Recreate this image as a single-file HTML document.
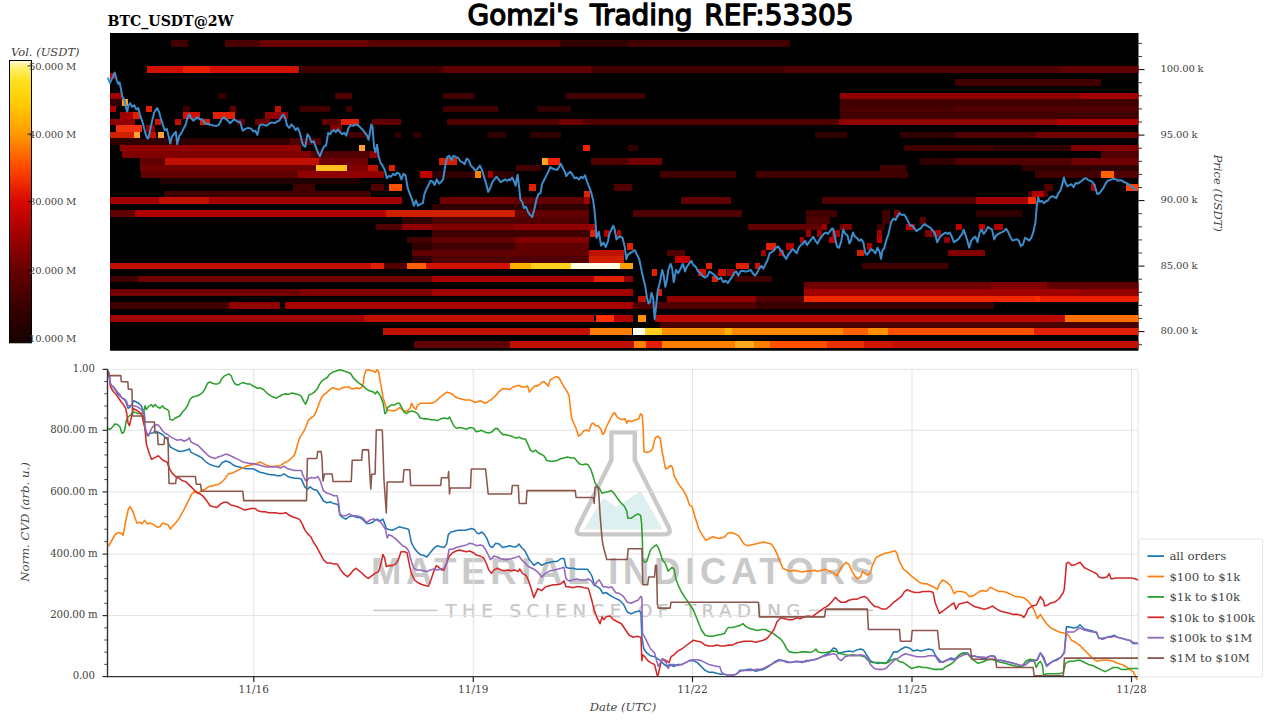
<!DOCTYPE html><html><head><meta charset="utf-8"><title>BTC_USDT@2W</title><style>
html,body{margin:0;padding:0;background:#fff;}body{width:1280px;height:720px;overflow:hidden;}
svg{display:block;}
.s{font-family:"DejaVu Serif","Liberation Serif",serif;fill:#444;}
</style></head><body>
<svg width="1280" height="720" viewBox="0 0 1280 720">
<text x="467.6" y="25" font-family="DejaVu Sans,Liberation Sans,sans-serif" font-size="29" fill="#000" stroke="#000" stroke-width="1.4" stroke-linejoin="round" word-spacing="3" textLength="386" lengthAdjust="spacingAndGlyphs">Gomzi's Trading REF:53305</text>
<text x="107.5" y="26" font-family="DejaVu Serif,Liberation Serif,serif" font-weight="bold" font-size="14.5" fill="#000" textLength="126" lengthAdjust="spacingAndGlyphs">BTC_USDT@2W</text>
<defs><linearGradient id="cb" x1="0" y1="0" x2="0" y2="1">
<stop offset="0" stop-color="#fffbe0"/>
<stop offset="0.025" stop-color="#fff070"/>
<stop offset="0.07" stop-color="#ffe020"/>
<stop offset="0.15" stop-color="#ffcc00"/>
<stop offset="0.26" stop-color="#ff9a00"/>
<stop offset="0.38" stop-color="#ff4800"/>
<stop offset="0.5" stop-color="#d80800"/>
<stop offset="0.62" stop-color="#a00000"/>
<stop offset="0.74" stop-color="#680000"/>
<stop offset="0.87" stop-color="#3a0000"/>
<stop offset="1" stop-color="#160000"/>
</linearGradient></defs>
<rect x="9.5" y="60.5" width="22" height="282.3" fill="url(#cb)" stroke="#000" stroke-width="1"/>
<text class="s" x="11" y="55.5" font-size="11.5" font-style="italic">Vol. (USDT)</text>
<line x1="27.5" y1="66" x2="31.5" y2="66" stroke="#000" stroke-width="0.8"/>
<text class="s" x="29" y="69.6" font-size="10" letter-spacing="-0.15">50.000 M</text>
<line x1="27.5" y1="134" x2="31.5" y2="134" stroke="#000" stroke-width="0.8"/>
<text class="s" x="29" y="137.6" font-size="10" letter-spacing="-0.15">40.000 M</text>
<line x1="27.5" y1="201.5" x2="31.5" y2="201.5" stroke="#000" stroke-width="0.8"/>
<text class="s" x="29" y="205.1" font-size="10" letter-spacing="-0.15">30.000 M</text>
<line x1="27.5" y1="270" x2="31.5" y2="270" stroke="#000" stroke-width="0.8"/>
<text class="s" x="29" y="273.6" font-size="10" letter-spacing="-0.15">20.000 M</text>
<line x1="27.5" y1="338" x2="31.5" y2="338" stroke="#000" stroke-width="0.8"/>
<text class="s" x="29" y="341.6" font-size="10" letter-spacing="-0.15">10.000 M</text>
<clipPath id="hc"><rect x="110" y="33" width="1028.5" height="317.75"/></clipPath>
<rect x="110" y="33" width="1028.5" height="317.75" fill="#000"/>
<g clip-path="url(#hc)" shape-rendering="crispEdges">
<rect x="171" y="40.13" width="17" height="6.55" fill="#400000"/>
<rect x="224.8" y="40.13" width="35.2" height="6.55" fill="#4a0000"/>
<rect x="260" y="40.13" width="108" height="6.55" fill="#6a0000"/>
<rect x="368" y="40.13" width="192" height="6.55" fill="#580000"/>
<rect x="560" y="40.13" width="68" height="6.55" fill="#300000"/>
<rect x="628" y="40.13" width="162" height="6.55" fill="#400000"/>
<rect x="146.6" y="66.33" width="36.4" height="6.55" fill="#d01000"/>
<rect x="183" y="66.33" width="27" height="6.55" fill="#e82000"/>
<rect x="210" y="66.33" width="89" height="6.55" fill="#d01000"/>
<rect x="301" y="66.33" width="67" height="6.55" fill="#400000"/>
<rect x="368" y="66.33" width="75" height="6.55" fill="#400000"/>
<rect x="443" y="66.33" width="148" height="6.55" fill="#600000"/>
<rect x="591" y="66.33" width="37" height="6.55" fill="#400000"/>
<rect x="628" y="66.33" width="156" height="6.55" fill="#400000"/>
<rect x="784" y="66.33" width="104" height="6.55" fill="#500000"/>
<rect x="888" y="66.33" width="172" height="6.55" fill="#500000"/>
<rect x="1060" y="66.33" width="78.5" height="6.55" fill="#600000"/>
<rect x="110" y="72.88" width="6" height="6.55" fill="#c00000"/>
<rect x="955" y="79.43" width="146" height="6.55" fill="#400000"/>
<rect x="110" y="92.53" width="12" height="6.55" fill="#a00000"/>
<rect x="218" y="92.53" width="8" height="6.55" fill="#300000"/>
<rect x="335" y="92.53" width="17" height="6.55" fill="#500000"/>
<rect x="443" y="92.53" width="31" height="6.55" fill="#400000"/>
<rect x="566" y="92.53" width="79" height="6.55" fill="#400000"/>
<rect x="840" y="92.53" width="240" height="6.55" fill="#900000"/>
<rect x="1080" y="92.53" width="58.5" height="6.55" fill="#a00000"/>
<rect x="110" y="99.08" width="12" height="6.55" fill="#300000"/>
<rect x="122" y="99.08" width="6" height="6.55" fill="#ffa020"/>
<rect x="840" y="99.08" width="298.5" height="6.55" fill="#400000"/>
<rect x="110" y="105.63" width="6" height="6.55" fill="#b00000"/>
<rect x="146" y="105.63" width="6" height="6.55" fill="#e02000"/>
<rect x="183" y="105.63" width="7" height="6.55" fill="#400000"/>
<rect x="230" y="105.63" width="6" height="6.55" fill="#600000"/>
<rect x="275" y="105.63" width="6" height="6.55" fill="#c01000"/>
<rect x="300" y="105.63" width="30" height="6.55" fill="#400000"/>
<rect x="346" y="105.63" width="6" height="6.55" fill="#400000"/>
<rect x="443" y="105.63" width="55" height="6.55" fill="#400000"/>
<rect x="537" y="105.63" width="34" height="6.55" fill="#300000"/>
<rect x="840" y="105.63" width="115" height="6.55" fill="#480000"/>
<rect x="955" y="105.63" width="183.5" height="6.55" fill="#500000"/>
<rect x="120" y="112.18" width="13" height="6.55" fill="#a00000"/>
<rect x="133" y="112.18" width="7" height="6.55" fill="#e02000"/>
<rect x="183" y="112.18" width="17" height="6.55" fill="#d01000"/>
<rect x="213" y="112.18" width="22" height="6.55" fill="#e02000"/>
<rect x="265" y="112.18" width="23" height="6.55" fill="#900000"/>
<rect x="840" y="112.18" width="298.5" height="6.55" fill="#400000"/>
<rect x="110" y="118.73" width="25" height="6.55" fill="#900000"/>
<rect x="155" y="118.73" width="6" height="6.55" fill="#d01000"/>
<rect x="175" y="118.73" width="6" height="6.55" fill="#c01000"/>
<rect x="200" y="118.73" width="10" height="6.55" fill="#d02000"/>
<rect x="237" y="118.73" width="8" height="6.55" fill="#600000"/>
<rect x="255" y="118.73" width="15" height="6.55" fill="#700000"/>
<rect x="322" y="118.73" width="8" height="6.55" fill="#600000"/>
<rect x="330" y="118.73" width="11" height="6.55" fill="#600000"/>
<rect x="341" y="118.73" width="18" height="6.55" fill="#e02000"/>
<rect x="372" y="118.73" width="29" height="6.55" fill="#600000"/>
<rect x="447" y="118.73" width="112" height="6.55" fill="#500000"/>
<rect x="559" y="118.73" width="24" height="6.55" fill="#700000"/>
<rect x="583" y="118.73" width="256" height="6.55" fill="#500000"/>
<rect x="839" y="118.73" width="218" height="6.55" fill="#900000"/>
<rect x="1057" y="118.73" width="81.5" height="6.55" fill="#b00000"/>
<rect x="116" y="125.28" width="26" height="6.55" fill="#f03010"/>
<rect x="146" y="125.28" width="9" height="6.55" fill="#900000"/>
<rect x="330" y="125.28" width="12" height="6.55" fill="#800000"/>
<rect x="110" y="131.83" width="24" height="6.55" fill="#d02000"/>
<rect x="134" y="131.83" width="6" height="6.55" fill="#ffa030"/>
<rect x="149" y="131.83" width="7" height="6.55" fill="#c01000"/>
<rect x="158" y="131.83" width="6" height="6.55" fill="#ffa030"/>
<rect x="348" y="131.83" width="20" height="6.55" fill="#400000"/>
<rect x="395" y="131.83" width="6" height="6.55" fill="#300000"/>
<rect x="413" y="131.83" width="8" height="6.55" fill="#300000"/>
<rect x="488" y="131.83" width="18" height="6.55" fill="#300000"/>
<rect x="530" y="131.83" width="31" height="6.55" fill="#300000"/>
<rect x="815" y="131.83" width="32" height="6.55" fill="#300000"/>
<rect x="900" y="131.83" width="55" height="6.55" fill="#300000"/>
<rect x="955" y="131.83" width="81" height="6.55" fill="#500000"/>
<rect x="1036" y="131.83" width="102.5" height="6.55" fill="#700000"/>
<rect x="110" y="138.38" width="180" height="6.55" fill="#300000"/>
<rect x="290" y="138.38" width="31" height="6.55" fill="#500000"/>
<rect x="120" y="144.93" width="181" height="6.55" fill="#900000"/>
<rect x="359" y="144.93" width="6" height="6.55" fill="#ffa030"/>
<rect x="583" y="144.93" width="7" height="6.55" fill="#f02000"/>
<rect x="628" y="144.93" width="10" height="6.55" fill="#300000"/>
<rect x="904" y="144.93" width="90" height="6.55" fill="#400000"/>
<rect x="994" y="144.93" width="77" height="6.55" fill="#300000"/>
<rect x="1071" y="144.93" width="67.5" height="6.55" fill="#800000"/>
<rect x="122" y="151.48" width="189" height="6.55" fill="#800000"/>
<rect x="311" y="151.48" width="59" height="6.55" fill="#500000"/>
<rect x="370" y="151.48" width="9" height="6.55" fill="#900000"/>
<rect x="1101" y="151.48" width="37.5" height="6.55" fill="#500000"/>
<rect x="140" y="158.03" width="25" height="6.55" fill="#600000"/>
<rect x="165" y="158.03" width="154" height="6.55" fill="#c01000"/>
<rect x="319" y="158.03" width="49" height="6.55" fill="#700000"/>
<rect x="439" y="158.03" width="18" height="6.55" fill="#d02000"/>
<rect x="542" y="158.03" width="6" height="6.55" fill="#ffa020"/>
<rect x="548" y="158.03" width="12" height="6.55" fill="#f02000"/>
<rect x="591" y="158.03" width="37" height="6.55" fill="#500000"/>
<rect x="628" y="158.03" width="34" height="6.55" fill="#700000"/>
<rect x="920" y="158.03" width="35" height="6.55" fill="#300000"/>
<rect x="955" y="158.03" width="116" height="6.55" fill="#500000"/>
<rect x="1071" y="158.03" width="67.5" height="6.55" fill="#700000"/>
<rect x="140" y="164.58" width="176" height="6.55" fill="#700000"/>
<rect x="316" y="164.58" width="31" height="6.55" fill="#ffc020"/>
<rect x="347" y="164.58" width="21" height="6.55" fill="#800000"/>
<rect x="368" y="164.58" width="10" height="6.55" fill="#c01000"/>
<rect x="389" y="164.58" width="6" height="6.55" fill="#e02000"/>
<rect x="516" y="164.58" width="25" height="6.55" fill="#400000"/>
<rect x="880" y="164.58" width="26" height="6.55" fill="#400000"/>
<rect x="1022" y="164.58" width="116.5" height="6.55" fill="#300000"/>
<rect x="141" y="171.13" width="157" height="6.55" fill="#600000"/>
<rect x="298" y="171.13" width="86" height="6.55" fill="#900000"/>
<rect x="420" y="171.13" width="12" height="6.55" fill="#c00000"/>
<rect x="432" y="171.13" width="43" height="6.55" fill="#300000"/>
<rect x="475" y="171.13" width="6" height="6.55" fill="#ff8000"/>
<rect x="481" y="171.13" width="7" height="6.55" fill="#300000"/>
<rect x="488" y="171.13" width="5" height="6.55" fill="#a00000"/>
<rect x="493" y="171.13" width="22" height="6.55" fill="#300000"/>
<rect x="660" y="171.13" width="76" height="6.55" fill="#400000"/>
<rect x="756" y="171.13" width="152" height="6.55" fill="#400000"/>
<rect x="1035" y="171.13" width="66" height="6.55" fill="#400000"/>
<rect x="1101" y="171.13" width="13" height="6.55" fill="#ff6000"/>
<rect x="1114" y="171.13" width="24.5" height="6.55" fill="#500000"/>
<rect x="160" y="177.68" width="200" height="6.55" fill="#200000"/>
<rect x="293" y="184.23" width="22" height="6.55" fill="#400000"/>
<rect x="371" y="184.23" width="13" height="6.55" fill="#500000"/>
<rect x="389" y="184.23" width="13" height="6.55" fill="#ff5000"/>
<rect x="529" y="184.23" width="7" height="6.55" fill="#e02000"/>
<rect x="614" y="184.23" width="18" height="6.55" fill="#500000"/>
<rect x="1044" y="184.23" width="9" height="6.55" fill="#500000"/>
<rect x="1091" y="184.23" width="5" height="6.55" fill="#b00000"/>
<rect x="1126" y="184.23" width="12.5" height="6.55" fill="#ff4000"/>
<rect x="164" y="190.78" width="207" height="6.55" fill="#400000"/>
<rect x="584" y="190.78" width="6" height="6.55" fill="#e02000"/>
<rect x="1028" y="190.78" width="4" height="6.55" fill="#500000"/>
<rect x="1032" y="190.78" width="12" height="6.55" fill="#b00000"/>
<rect x="1044" y="190.78" width="4" height="6.55" fill="#500000"/>
<rect x="110" y="197.33" width="49" height="6.55" fill="#a00000"/>
<rect x="159" y="197.33" width="50" height="6.55" fill="#c01000"/>
<rect x="209" y="197.33" width="193" height="6.55" fill="#a00000"/>
<rect x="440" y="197.33" width="75" height="6.55" fill="#700000"/>
<rect x="515" y="197.33" width="69" height="6.55" fill="#600000"/>
<rect x="584" y="197.33" width="6" height="6.55" fill="#a00000"/>
<rect x="681" y="197.33" width="50" height="6.55" fill="#600000"/>
<rect x="822" y="197.33" width="154" height="6.55" fill="#500000"/>
<rect x="976" y="197.33" width="52" height="6.55" fill="#a00000"/>
<rect x="1028" y="197.33" width="8" height="6.55" fill="#ff3000"/>
<rect x="432" y="203.88" width="157" height="6.55" fill="#300000"/>
<rect x="110" y="210.43" width="25" height="6.55" fill="#600000"/>
<rect x="135" y="210.43" width="251" height="6.55" fill="#b00000"/>
<rect x="386" y="210.43" width="129" height="6.55" fill="#d02000"/>
<rect x="515" y="210.43" width="74" height="6.55" fill="#600000"/>
<rect x="633" y="210.43" width="109" height="6.55" fill="#500000"/>
<rect x="806" y="210.43" width="31" height="6.55" fill="#400000"/>
<rect x="882" y="210.43" width="8" height="6.55" fill="#400000"/>
<rect x="894" y="210.43" width="6" height="6.55" fill="#800000"/>
<rect x="976" y="210.43" width="46" height="6.55" fill="#300000"/>
<rect x="402" y="216.98" width="30" height="6.55" fill="#300000"/>
<rect x="432" y="216.98" width="157" height="6.55" fill="#500000"/>
<rect x="806" y="216.98" width="24" height="6.55" fill="#500000"/>
<rect x="882" y="216.98" width="8" height="6.55" fill="#400000"/>
<rect x="920" y="216.98" width="6" height="6.55" fill="#600000"/>
<rect x="376" y="223.53" width="26" height="6.55" fill="#500000"/>
<rect x="402" y="223.53" width="30" height="6.55" fill="#900000"/>
<rect x="432" y="223.53" width="83" height="6.55" fill="#800000"/>
<rect x="515" y="223.53" width="74" height="6.55" fill="#900000"/>
<rect x="589" y="223.53" width="7" height="6.55" fill="#a00000"/>
<rect x="748" y="223.53" width="74" height="6.55" fill="#600000"/>
<rect x="822" y="223.53" width="5" height="6.55" fill="#a00000"/>
<rect x="840" y="223.53" width="12" height="6.55" fill="#800000"/>
<rect x="877" y="223.53" width="8" height="6.55" fill="#400000"/>
<rect x="906" y="223.53" width="9" height="6.55" fill="#c00000"/>
<rect x="956" y="223.53" width="6" height="6.55" fill="#c00000"/>
<rect x="979" y="223.53" width="6" height="6.55" fill="#c00000"/>
<rect x="994" y="223.53" width="9" height="6.55" fill="#b00000"/>
<rect x="432" y="230.08" width="157" height="6.55" fill="#400000"/>
<rect x="590" y="230.08" width="7" height="6.55" fill="#e02000"/>
<rect x="604" y="230.08" width="5" height="6.55" fill="#b00000"/>
<rect x="617" y="230.08" width="4" height="6.55" fill="#c00000"/>
<rect x="806" y="230.08" width="5" height="6.55" fill="#a00000"/>
<rect x="817" y="230.08" width="5" height="6.55" fill="#a00000"/>
<rect x="832" y="230.08" width="8" height="6.55" fill="#a00000"/>
<rect x="877" y="230.08" width="5" height="6.55" fill="#a00000"/>
<rect x="925" y="230.08" width="7" height="6.55" fill="#800000"/>
<rect x="933" y="230.08" width="8" height="6.55" fill="#a00000"/>
<rect x="407" y="236.63" width="25" height="6.55" fill="#400000"/>
<rect x="432" y="236.63" width="83" height="6.55" fill="#600000"/>
<rect x="515" y="236.63" width="74" height="6.55" fill="#800000"/>
<rect x="800" y="236.63" width="4" height="6.55" fill="#b00000"/>
<rect x="829" y="236.63" width="6" height="6.55" fill="#c00000"/>
<rect x="877" y="236.63" width="5" height="6.55" fill="#c00000"/>
<rect x="944" y="236.63" width="6" height="6.55" fill="#900000"/>
<rect x="412" y="243.18" width="20" height="6.55" fill="#300000"/>
<rect x="432" y="243.18" width="83" height="6.55" fill="#400000"/>
<rect x="515" y="243.18" width="74" height="6.55" fill="#600000"/>
<rect x="627" y="243.18" width="6" height="6.55" fill="#e02000"/>
<rect x="766" y="243.18" width="10" height="6.55" fill="#e02000"/>
<rect x="786" y="243.18" width="8" height="6.55" fill="#b00000"/>
<rect x="867" y="243.18" width="5" height="6.55" fill="#b00000"/>
<rect x="412" y="249.73" width="20" height="6.55" fill="#600000"/>
<rect x="432" y="249.73" width="157" height="6.55" fill="#600000"/>
<rect x="589" y="249.73" width="35" height="6.55" fill="#c01000"/>
<rect x="667" y="249.73" width="18" height="6.55" fill="#500000"/>
<rect x="761" y="249.73" width="5" height="6.55" fill="#a00000"/>
<rect x="779" y="249.73" width="5" height="6.55" fill="#c00000"/>
<rect x="857" y="249.73" width="7" height="6.55" fill="#d02000"/>
<rect x="948" y="249.73" width="37" height="6.55" fill="#800000"/>
<rect x="412" y="256.28" width="20" height="6.55" fill="#300000"/>
<rect x="432" y="256.28" width="157" height="6.55" fill="#500000"/>
<rect x="589" y="256.28" width="35" height="6.55" fill="#d02000"/>
<rect x="675" y="256.28" width="15" height="6.55" fill="#c00000"/>
<rect x="110" y="262.83" width="261" height="6.55" fill="#c01000"/>
<rect x="371" y="262.83" width="13" height="6.55" fill="#e02000"/>
<rect x="384" y="262.83" width="23" height="6.55" fill="#500000"/>
<rect x="407" y="262.83" width="19" height="6.55" fill="#ff6000"/>
<rect x="426" y="262.83" width="84" height="6.55" fill="#d01000"/>
<rect x="510" y="262.83" width="21" height="6.55" fill="#ffb000"/>
<rect x="531" y="262.83" width="40" height="6.55" fill="#ffd020"/>
<rect x="571" y="262.83" width="49" height="6.55" fill="#ffffe8"/>
<rect x="620" y="262.83" width="13" height="6.55" fill="#ffa000"/>
<rect x="706" y="262.83" width="6" height="6.55" fill="#e02000"/>
<rect x="736" y="262.83" width="13" height="6.55" fill="#e02000"/>
<rect x="755" y="262.83" width="5" height="6.55" fill="#d01000"/>
<rect x="862" y="262.83" width="86" height="6.55" fill="#400000"/>
<rect x="652" y="269.38" width="5" height="6.55" fill="#e02000"/>
<rect x="698" y="269.38" width="8" height="6.55" fill="#d01000"/>
<rect x="718" y="269.38" width="8" height="6.55" fill="#d01000"/>
<rect x="727" y="269.38" width="8" height="6.55" fill="#a00000"/>
<rect x="110" y="275.93" width="28" height="6.55" fill="#400000"/>
<rect x="138" y="275.93" width="294" height="6.55" fill="#700000"/>
<rect x="432" y="275.93" width="162" height="6.55" fill="#a80000"/>
<rect x="594" y="275.93" width="30" height="6.55" fill="#e02000"/>
<rect x="624" y="275.93" width="9" height="6.55" fill="#900000"/>
<rect x="712" y="275.93" width="6" height="6.55" fill="#e02000"/>
<rect x="735" y="275.93" width="37" height="6.55" fill="#400000"/>
<rect x="804" y="282.48" width="187" height="6.55" fill="#700000"/>
<rect x="991" y="282.48" width="56" height="6.55" fill="#800000"/>
<rect x="1047" y="282.48" width="91.5" height="6.55" fill="#600000"/>
<rect x="110" y="289.03" width="190" height="6.55" fill="#700000"/>
<rect x="300" y="289.03" width="132" height="6.55" fill="#800000"/>
<rect x="432" y="289.03" width="201" height="6.55" fill="#a00000"/>
<rect x="657" y="289.03" width="5" height="6.55" fill="#d02000"/>
<rect x="804" y="289.03" width="276" height="6.55" fill="#a00000"/>
<rect x="1080" y="289.03" width="58.5" height="6.55" fill="#900000"/>
<rect x="638" y="295.58" width="8" height="6.55" fill="#c01000"/>
<rect x="667" y="295.58" width="89" height="6.55" fill="#900000"/>
<rect x="756" y="295.58" width="48" height="6.55" fill="#500000"/>
<rect x="804" y="295.58" width="231" height="6.55" fill="#f02800"/>
<rect x="1035" y="295.58" width="5" height="6.55" fill="#ff3000"/>
<rect x="1040" y="295.58" width="98.5" height="6.55" fill="#e82000"/>
<rect x="110" y="302.13" width="119" height="6.55" fill="#400000"/>
<rect x="229" y="302.13" width="51" height="6.55" fill="#900000"/>
<rect x="285" y="302.13" width="348" height="6.55" fill="#a80000"/>
<rect x="633" y="302.13" width="123" height="6.55" fill="#500000"/>
<rect x="756" y="302.13" width="238" height="6.55" fill="#380000"/>
<rect x="110" y="315.23" width="254" height="6.55" fill="#a00000"/>
<rect x="364" y="315.23" width="230" height="6.55" fill="#c01000"/>
<rect x="596" y="315.23" width="18" height="6.55" fill="#ff3000"/>
<rect x="614" y="315.23" width="19" height="6.55" fill="#b00000"/>
<rect x="638" y="315.23" width="8" height="6.55" fill="#ff9000"/>
<rect x="655" y="315.23" width="410" height="6.55" fill="#b80800"/>
<rect x="1065" y="315.23" width="73.5" height="6.55" fill="#ff7000"/>
<rect x="660" y="321.78" width="478.5" height="6.55" fill="#480000"/>
<rect x="383" y="328.33" width="207" height="6.55" fill="#c01000"/>
<rect x="590" y="328.33" width="42" height="6.55" fill="#ff8000"/>
<rect x="633" y="328.33" width="12" height="6.55" fill="#fffff0"/>
<rect x="645" y="328.33" width="17" height="6.55" fill="#ffd020"/>
<rect x="662" y="328.33" width="63" height="6.55" fill="#ff9000"/>
<rect x="725" y="328.33" width="7" height="6.55" fill="#ffb000"/>
<rect x="732" y="328.33" width="111" height="6.55" fill="#ff8800"/>
<rect x="843" y="328.33" width="25" height="6.55" fill="#ff6000"/>
<rect x="868" y="328.33" width="20" height="6.55" fill="#ff9000"/>
<rect x="888" y="328.33" width="146" height="6.55" fill="#ff5000"/>
<rect x="1034" y="328.33" width="104.5" height="6.55" fill="#e02000"/>
<rect x="414" y="341.43" width="96" height="6.55" fill="#600000"/>
<rect x="510" y="341.43" width="124" height="6.55" fill="#c01000"/>
<rect x="634" y="341.43" width="12" height="6.55" fill="#ff8000"/>
<rect x="646" y="341.43" width="16" height="6.55" fill="#e02000"/>
<rect x="662" y="341.43" width="73" height="6.55" fill="#ff8000"/>
<rect x="735" y="341.43" width="19" height="6.55" fill="#ffa820"/>
<rect x="754" y="341.43" width="16" height="6.55" fill="#ff8000"/>
<rect x="770" y="341.43" width="57" height="6.55" fill="#ff5000"/>
<rect x="827" y="341.43" width="37" height="6.55" fill="#e83000"/>
<rect x="864" y="341.43" width="28" height="6.55" fill="#d01800"/>
<rect x="892" y="341.43" width="246.5" height="6.55" fill="#c01000"/>
</g>
<polyline points="107.8,77.5 109.9,83.1 111.9,78.9 114.7,72.6 116.8,80.3 118.2,83.75 119.6,82.4 121,89.3 122.4,96.9 124.4,99.7 125.8,106.7 127.2,111.5 128.6,105.3 130,103.2 132.1,106.7 134.2,105.3 136.3,109.4 138.3,108.1 140.4,116.4 142.5,121.9 144.6,130.3 146.7,137.2 148.1,138.6 150.1,130.3 152.2,120.6 154.3,112.2 157.1,108.1 159.2,112.2 160.6,117.8 161.9,121.9 163.3,126.1 164.7,130.3 166.8,128.9 168.9,137.2 170.3,143.5 171.7,137.2 173.75,134.4 175.8,131.7 177.2,144.2 179.3,135.8 181.4,133.1 183.5,128.9 185.6,124.7 187.6,117.8 189,114.3 191.1,117.8 193.2,120.6 195.3,119.2 197.4,117.1 199.4,119.2 202.2,119.2 205,123.3 207.8,124 210.6,124.7 213.3,125.4 216.1,126.1 218.9,124.7 221.7,119.2 223.75,117.1 225.8,119.2 227.9,120.6 230,123.3 232.1,121.25 234.2,119.2 236.25,120.6 238.3,122 240,121.7 242.8,130.7 245.6,128.6 248.3,127.9 251.1,128.6 253.2,131.4 255.3,130.7 257.4,134.9 259.4,125.8 261.5,124.4 264.3,125.1 266.4,125.8 269.2,123.75 271.9,122.4 274.7,123.1 276.8,121.7 279.6,120.3 281.7,116.1 283.1,114.7 285.1,117.5 287.2,125.8 289.3,127.9 291.4,124.4 293.5,126.5 295.6,130 297.6,127.9 299.7,132.1 301.8,141.1 303.2,145.3 305.3,146.7 307.4,134.2 309.4,136.9 311.5,142.5 313.6,141.1 315.7,146.7 317.8,152.2 319.9,156.4 321.9,150.8 324,146.7 326.1,145.3 328.2,132.8 330.3,134.2 331.7,131.4 333.75,130 335.8,132.1 337.9,129.3 340,132.1 342.1,134.2 344.2,132.8 346.25,135.6 348.3,128.6 350.4,125.1 353.2,125.8 356,124.4 358.75,125.8 360.8,127.9 362.9,130 365,132.8 367.1,135.6 368.5,139.7 369.9,132.8 371.25,124.4 372.6,127.2 374,146.7 375.4,152.2 377.1,144.7 378.5,155.8 380.6,162.8 382.6,165.6 384.7,169.7 386.8,178.1 388.9,176 391,176.7 393.1,173.9 395.1,175.3 397.2,172.5 399.3,173.9 401.4,179.4 403.5,173.9 405.6,175.3 407.6,187.8 409.7,193.3 411.8,198.9 413.9,205.8 416,200.3 418.1,205.8 420.1,204.4 422.9,203.1 424.3,194.7 426.4,189.2 428.5,185 430.6,180.8 432.6,181.5 434.7,185 436.8,179.4 438.9,183.6 441,182.2 443.1,179.4 444.4,171.1 445.8,162.8 447.2,157.2 449.3,155.8 451.4,160 453.5,155.8 456.25,157.2 458.3,157.9 460.4,161.4 462.5,162.1 464.6,164.2 466.7,158.6 468.75,160 470.8,165.6 473.6,168.3 475.7,171.1 477.8,168.3 479.9,165.6 481.9,169.7 484,176.7 486.1,183.6 488.2,191.9 490.3,187.8 492.4,182.2 494.4,179.4 496.5,176.7 498.6,179.4 500.7,182.2 502.8,180.8 504.9,179.4 506.9,180.8 509,179.4 510,180.3 512.1,177.5 514.2,181.7 515.6,185.8 517.6,174.7 519,185.8 520.4,199.7 522.5,202.5 523.9,208.1 526,206.7 528.1,212.2 530.1,215 532.2,217.1 534.3,209.4 536.4,199.7 538.5,194.2 540.6,192.8 541.9,184.4 544,180.3 546.1,176.1 548.2,171.9 550.3,167.1 552.4,168.5 554.4,169.2 557.2,169.9 559.3,166.4 560.7,163.6 562.8,167.8 564.9,171.9 566.25,176.1 568.3,173.3 570.4,171.9 572.5,174.7 574.6,178.2 576.7,177.5 578.75,179.6 580.8,176.8 582.9,178.2 585,175.4 587.1,181.7 589.2,187.2 591.25,192.8 593.3,201.1 594.7,212.2 595.5,221.5 596.5,237.9 598.8,231.8 601.1,245.6 603.4,242.5 605.7,247.1 608,241 609.5,233.3 611.8,228.75 613.3,225.7 614.9,230.3 616.4,239.4 617.9,237.9 620.2,236.4 622.5,237.9 624.8,247.1 626.3,259.3 627.8,254.7 630.1,253.2 632.4,251.7 634.7,250.1 637,254.7 639.3,259.3 640.8,266.9 642.4,274.6 643.9,280.7 645.4,286.8 646.9,297.5 648.5,303.6 650,302.1 651.5,292.9 653.1,297.5 654.6,318.9 656.1,306.7 657.6,291.4 659.9,282.2 662.2,270 663.8,276.1 665.3,286.8 666.8,280.7 668.3,270 670.6,263.9 672.2,268.5 673.7,282.2 676,270 678.3,273.1 680.6,268.5 682.9,263.9 685.1,271.5 686.7,266.9 689,263.9 691.3,260.8 693.5,265.4 695.8,266.9 698.1,271.5 700.4,273.1 702.7,276.1 705,277.6 707.3,276.1 709.6,271.5 711.9,273.1 714.2,274.6 716.5,277.6 718.8,279.2 721,277.6 723.3,282.2 725.6,280.7 727.9,283 730,279.7 732.1,276.9 734.2,272.8 736.25,271.4 738.3,275.6 740.4,271.4 742.5,270.7 744.6,271.4 746.7,271.4 748.75,270.7 750.8,270 752.9,273.5 755,275.6 757.1,272.8 759.2,268.6 761.25,265.8 763.3,268.6 765.4,264.4 767.5,260.3 769.6,253.3 771.7,251.9 773.75,250.6 775.8,247.8 777.9,246.4 780,249.2 782.1,251.9 784.2,256.1 786.25,258.9 788.3,254.7 790.4,251.9 792.5,249.2 794.6,250.6 796.7,253.3 798.75,247.8 800.8,245 802.9,243.6 805,240.8 807.1,245 809.2,242.2 811.25,239.4 813.3,236.7 815.4,240.8 817.5,243.6 819.6,239.4 821.7,236.7 823.75,233.9 825.8,232.5 827.9,233.9 830,231.1 832.1,228.3 833.5,229.7 834.9,236.7 836.9,246.4 839,247.8 841.1,242.2 843.2,229.7 845.3,233.9 847.4,235.3 849.4,243.6 850.8,240.8 852.9,232.5 855,236.7 857.1,238.1 859.2,240.8 861.25,239.4 863.3,242.2 865.4,253.3 867.1,254.7 869.2,251.9 871.25,249.2 873.3,250.6 875.4,253.3 877.5,247.8 879.6,251.9 881,258.9 882.4,250.6 884.4,247.8 886.5,239.4 888.6,233.9 890,226.9 891.4,221.4 893.5,218.6 895.6,220 897.6,215.8 899.7,213.1 901.8,215.1 903.9,214.4 906,217.2 908.1,221.4 910.1,225.6 912.2,225.6 914.3,228.3 916.4,231.1 918.5,229.7 920.6,228.3 922.6,225.6 924.7,224.2 926.8,225.6 928.9,226.9 931,228.3 933.1,231.1 935.1,233.9 937.2,242.2 939.3,238.1 941.4,235.3 943.5,233.9 945.6,232.5 947.6,233.9 949.7,232.5 951.8,236.7 953.9,242.2 956,240.8 958.1,239.4 960.1,236.7 962.2,233.9 963.6,229.7 965.7,235.3 967.8,242.2 969.2,247.8 971.25,240.8 973.3,238.1 975.4,236.7 977.5,242.2 979.6,232.5 981.7,229.7 983.75,233.9 985.8,231.1 987.9,226.9 990,228.3 992.1,229.7 994.2,239.4 996.25,235.3 998.3,233.9 1000.4,232.9 1002.1,232.2 1004.2,230.8 1006.25,228.75 1008.3,232.2 1010.4,237.1 1012.5,240.6 1014.6,239.9 1016.7,239.2 1018.75,240.6 1020.8,246.1 1022.9,244.7 1025,237.8 1027.1,239.2 1029.2,240.6 1031.25,237.8 1033.3,232.2 1035.4,222.5 1036.8,205.8 1038.2,197.5 1039.6,201.7 1041.7,201 1043.75,203.1 1045.8,201.7 1047.9,200.3 1050,197.5 1052.1,196.1 1054.2,196.8 1056.25,198.2 1058.3,193.3 1060.4,190.6 1062.5,183.6 1063.9,177.4 1065.3,182.2 1067.4,186.4 1069.4,185 1071.5,184.3 1073.6,187.1 1075.7,182.9 1077.8,183.6 1079.9,182.2 1081.9,180.8 1084,178.75 1086.1,178.1 1088.2,180.1 1090.3,180.8 1092.4,182.2 1094.4,185 1095.8,189.2 1097.2,194 1099.3,193.3 1101.4,190.6 1103.5,187.8 1105.6,183.6 1107.6,180.8 1109.7,180.1 1111.8,179.4 1113.9,178.75 1116,179.4 1118.1,180.8 1120.1,180.1 1122.2,180.8 1124.3,182.2 1126.4,182.9 1128.5,184.3 1130.6,185.7 1132.6,187.1 1134.7,189.2 1136.8,189.9" fill="none" stroke="#3d8ccc" stroke-width="2" stroke-linejoin="round"/>
<line x1="1138.5" y1="344.7" x2="1142.0" y2="344.7" stroke="#000" stroke-width="0.8"/>
<line x1="1138.5" y1="331.6" x2="1144.5" y2="331.6" stroke="#000" stroke-width="1"/>
<text class="s" x="1160.5" y="334" font-size="10" letter-spacing="-0.15">80.00 k</text>
<line x1="1138.5" y1="318.5" x2="1142.0" y2="318.5" stroke="#000" stroke-width="0.8"/>
<line x1="1138.5" y1="305.4" x2="1142.0" y2="305.4" stroke="#000" stroke-width="0.8"/>
<line x1="1138.5" y1="292.3" x2="1142.0" y2="292.3" stroke="#000" stroke-width="0.8"/>
<line x1="1138.5" y1="279.2" x2="1142.0" y2="279.2" stroke="#000" stroke-width="0.8"/>
<line x1="1138.5" y1="266.1" x2="1144.5" y2="266.1" stroke="#000" stroke-width="1"/>
<text class="s" x="1160.5" y="268.5" font-size="10" letter-spacing="-0.15">85.00 k</text>
<line x1="1138.5" y1="253" x2="1142.0" y2="253" stroke="#000" stroke-width="0.8"/>
<line x1="1138.5" y1="239.9" x2="1142.0" y2="239.9" stroke="#000" stroke-width="0.8"/>
<line x1="1138.5" y1="226.8" x2="1142.0" y2="226.8" stroke="#000" stroke-width="0.8"/>
<line x1="1138.5" y1="213.7" x2="1142.0" y2="213.7" stroke="#000" stroke-width="0.8"/>
<line x1="1138.5" y1="200.6" x2="1144.5" y2="200.6" stroke="#000" stroke-width="1"/>
<text class="s" x="1160.5" y="203" font-size="10" letter-spacing="-0.15">90.00 k</text>
<line x1="1138.5" y1="187.5" x2="1142.0" y2="187.5" stroke="#000" stroke-width="0.8"/>
<line x1="1138.5" y1="174.4" x2="1142.0" y2="174.4" stroke="#000" stroke-width="0.8"/>
<line x1="1138.5" y1="161.3" x2="1142.0" y2="161.3" stroke="#000" stroke-width="0.8"/>
<line x1="1138.5" y1="148.2" x2="1142.0" y2="148.2" stroke="#000" stroke-width="0.8"/>
<line x1="1138.5" y1="135.1" x2="1144.5" y2="135.1" stroke="#000" stroke-width="1"/>
<text class="s" x="1160.5" y="137.5" font-size="10" letter-spacing="-0.15">95.00 k</text>
<line x1="1138.5" y1="122" x2="1142.0" y2="122" stroke="#000" stroke-width="0.8"/>
<line x1="1138.5" y1="108.9" x2="1142.0" y2="108.9" stroke="#000" stroke-width="0.8"/>
<line x1="1138.5" y1="95.8" x2="1142.0" y2="95.8" stroke="#000" stroke-width="0.8"/>
<line x1="1138.5" y1="82.7" x2="1142.0" y2="82.7" stroke="#000" stroke-width="0.8"/>
<line x1="1138.5" y1="69.6" x2="1144.5" y2="69.6" stroke="#000" stroke-width="1"/>
<text class="s" x="1160.5" y="72" font-size="10" letter-spacing="-0.15">100.00 k</text>
<line x1="1138.5" y1="56.5" x2="1142.0" y2="56.5" stroke="#000" stroke-width="0.8"/>
<line x1="1138.5" y1="43.4" x2="1142.0" y2="43.4" stroke="#000" stroke-width="0.8"/>
<text class="s" font-size="11.5" font-style="italic" transform="translate(1213.6,193.2) rotate(90)" text-anchor="middle">Price (USDT)</text>
<path d="M585.5,528.5 L603.5,499.5 L616.4,508 L640.4,492.5 L661,528.5 Z" fill="#ddefee" stroke="#ddefee" stroke-width="2" stroke-linejoin="round"/>
<path d="M611.4,432.2 L611.4,460 L578,527 Q574.2,534.4 582,534.4 L664.5,534.4 Q672.3,534.4 668.5,527 L634.8,460 L634.8,432.2 Z" fill="none" stroke="#c9c9c9" stroke-width="4.4" stroke-linejoin="round"/>
<text x="371" y="583.8" font-family="Liberation Sans,DejaVu Sans,sans-serif" font-weight="bold" font-size="36.5" fill="#c9c9c9" textLength="503" lengthAdjust="spacing">MATERIAL INDICATORS</text>
<text x="445.5" y="617.3" font-family="DejaVu Sans,Liberation Sans,sans-serif" font-size="18.3" fill="#c6c6c6" stroke="#c6c6c6" stroke-width="0.25" textLength="355" lengthAdjust="spacing">THE SCIENCE OF TRADING</text>
<line x1="373" y1="610.4" x2="437.3" y2="610.4" stroke="#cfcfcf" stroke-width="1.6"/>
<line x1="808.5" y1="610.4" x2="873" y2="610.4" stroke="#cfcfcf" stroke-width="1.6"/>
<g stroke="#e3e3e3" stroke-width="1"><line x1="107.5" y1="676.6" x2="1138" y2="676.6"/><line x1="107.5" y1="615.6" x2="1138" y2="615.6"/><line x1="107.5" y1="554.1" x2="1138" y2="554.1"/><line x1="107.5" y1="491.9" x2="1138" y2="491.9"/><line x1="107.5" y1="430.3" x2="1138" y2="430.3"/><line x1="107.5" y1="369.4" x2="1138" y2="369.4"/><line x1="253.75" y1="369.4" x2="253.75" y2="676.6"/><line x1="473.25" y1="369.4" x2="473.25" y2="676.6"/><line x1="692.5" y1="369.4" x2="692.5" y2="676.6"/><line x1="912" y1="369.4" x2="912" y2="676.6"/><line x1="1131.5" y1="369.4" x2="1131.5" y2="676.6"/><line x1="1138" y1="369.4" x2="1138" y2="676.6"/></g>
<polyline points="108.1,370.75 109.4,375 110,383 112,386 114,388 116,391 118,394 120,396 122.5,398.25 125,399.5 128.1,408.25 130,407 131.9,404.5 133.75,400.75 136.25,402 138.75,403.25 141.25,405.75 143.1,410.75 144.4,413.25 145,429.5 147.5,435.75 150,433.25 152.5,433.25 155,431.4 157.5,432 160,433.25 162.5,434.5 165,437 167.5,439.5 168.7,443.8 170.5,447.2 173.9,448.9 177.35,450.7 180.8,451.5 184.2,450.7 187.7,449.8 189.4,448.9 191.1,452.4 194.6,454.1 198,455.8 201.5,457.6 204.9,461 208.4,463.6 211.8,465.3 215.25,466.2 218.7,467 222.1,462.7 225.6,461 229,461.9 232.5,464.45 235.9,466.2 239.4,467 242.8,467.9 246.25,468.8 249.7,468.8 253.15,468.8 256.6,470.5 260,472.2 263.5,473.1 266.9,473.9 270.4,474.8 273.8,474.8 277.3,475.65 280.7,475.65 284.15,473.9 287.6,476.5 291,477.4 294.5,478.2 297.9,478.2 301.4,479.1 304.8,486.85 307.4,489.4 310,486.85 313.4,489.4 316.9,490.3 320,495 323.4,501 326.9,502.7 330.3,501.9 333.8,503.6 338.1,504.45 339.8,514.8 342.4,517.4 345.8,519.1 349.3,516.5 352.7,515.65 356.2,517.4 359.6,517.4 363.1,520 366.5,523.4 370,523.4 373.4,521.7 376.85,519.1 380.3,520.8 382.9,519.1 384.6,523.4 386.3,528.6 388.9,529.4 392.35,530.3 395.8,528.6 399.2,526.85 402.7,527.7 406.1,528.6 408.7,529.4 411.3,542.35 413.9,547.5 416.5,551 419.9,554.4 423.4,555.3 426.8,557 430.25,552.7 433.7,548.4 437.1,545.8 440.6,546.7 444,547.5 446.6,544.1 448.3,534.6 450.9,532 454.4,531.15 457.8,530.3 461.3,530.3 464.7,530.3 468.1,529.4 471.6,528.6 474.2,529.4 476.8,532.9 479.35,533.7 481.9,532 484.5,534.6 487.1,538.9 489.7,545.8 492.3,547.5 495.7,543.2 499.2,544.1 502.6,547.5 506,546.7 509.5,545.8 512.95,546.7 516.4,546.7 519,544.1 521.55,547.5 525,551 526.7,554.4 529.3,559.6 533.9,565.3 537.8,562.4 541.7,565.3 545.6,563.35 549.5,562.4 553.3,561.4 557.2,561.4 561.1,558.5 564,558.5 566,567.2 568.9,568.2 572.8,568.2 576.7,569.2 580.6,569.2 584.5,569.2 587.4,569.2 590.3,573.1 592.3,577 594.2,584.7 597.1,586.7 600,588.6 603,593.5 605.9,592.5 608.8,594.5 611.7,596.4 615.6,598.4 619.5,600.3 623.4,604.2 627.3,612 631.2,613.9 635.1,612 638.9,611 640.9,612 641.9,637.3 643.8,649 646.7,652.8 650.6,655.8 654.5,656.7 657.4,658.7 660.4,660.6 664.2,664.5 667.2,666.5 670.1,664.5 674,666.5 677.9,664.5 681.75,664.5 685.6,662.6 689.5,660.6 693.4,660.6 697.3,662.6 701.2,666.5 705.1,670.35 709,672.3 712.9,672.3 716.8,673.3 720.7,674.2 724.6,674.2 728.4,675.2 732.3,675.2 736.2,674.2 740,670.35 743.89,670.35 747.78,669.38 751.67,669.38 755.56,671.32 759.46,670.35 763.35,669.38 767.24,667.43 771.13,664.51 775.02,661.6 778.91,659.65 782.8,660.62 786.69,661.6 790.58,662.57 794.47,661.6 798.37,661.6 802.26,662.57 806.15,660.62 810.04,660.62 813.93,659.65 817.82,658.68 821.71,656.73 825.6,654.79 829.49,652.84 833.39,647.98 836.3,648.95 838.25,653.81 841.17,652.84 845.06,651.87 848.95,650.89 852.84,651.87 856.73,649.92 860.62,648.95 863.54,649.92 866.46,654.79 870.35,660.62 874.24,662.57 878.13,663.54 882.02,662.57 885.91,663.54 889.81,658.68 893.7,651.87 897.59,651.87 901.48,648.95 905.37,647 909.26,647.98 913.15,650.89 917.04,649.92 920.93,650.89 924.82,649.92 928.72,648.95 932.61,649.92 933.12,650.83 935.21,655 939.38,660.21 942.5,662.29 946.67,660.21 950.83,658.12 955,659.17 959.17,655 963.33,652.92 967.5,652.92 970.62,657.08 973.75,656.04 977.92,657.08 982.08,658.12 986.25,658.12 990.42,656.04 994.58,656.04 996.67,660.21 1000.83,660.21 1005,661.25 1009.17,662.29 1013.33,663.33 1017.5,664.38 1021.67,666.46 1025.83,664.38 1030,660.21 1034.17,660.21 1037.29,660.21 1040.42,652.92 1043.54,657.08 1046.67,665.42 1049.79,663.33 1052.92,661.25 1057.08,659.17 1061.25,657.08 1064.38,651.88 1066.46,626.88 1069.58,626.88 1073.75,627.92 1077.92,626.88 1080,624.79 1084.17,628.96 1088.33,630 1092.5,631.04 1096.67,633.12 1098.75,638.33 1102.92,638.33 1107.08,637.29 1111.25,636.25 1114.38,635.21 1117.5,637.29 1121.67,638.33 1125.83,639.38 1130,640.42 1133.12,643.54 1138.33,643.54" fill="none" stroke="#1f77b4" stroke-width="1.55" stroke-linejoin="round"/>
<polyline points="108.4,546.3 111.9,540.25 115.3,534.2 118.8,532.5 121.4,533.4 123.1,535.1 125.7,521.3 128.3,509.2 130,506.65 132.6,511 135.1,517.9 136.9,523 139.45,522.2 142,523.9 144.6,520.4 147.2,523.9 149.8,523 152.4,523.9 155,525.6 157.5,527.3 160.1,526.5 162.7,523 165.3,523.9 167.9,524.7 170.5,529 173,525.6 175.6,523 178.2,519.6 180.8,515.3 184.2,509.2 186.8,504.1 189.4,498.9 192,493.7 194.6,491.15 198,493.7 201.5,490.3 204.9,489.4 208.4,486.85 211.8,486 215.25,485.1 218.7,484.3 222.1,481.7 225.6,478.2 228.2,473.9 232.5,473.1 235.9,471.3 239.4,469.6 242.8,467.9 246.25,466.2 249.7,465.3 253.15,464.45 256.6,463.6 260,461.9 263.4,463.6 266.9,465.4 270.3,466.2 273.8,466.2 277.2,466.2 280.7,465.4 283.25,463.6 285.8,461.9 288.4,461.05 291,458.5 294.45,455 296.2,449.85 297.9,443 300.5,436.1 303.1,432.6 305.65,427.5 308.2,420.6 310.8,418 313.4,416.3 316,412 318.6,405.1 321.15,398.2 323.7,394.7 326.3,393 328.9,390.4 332.35,387.8 335.8,388.7 339.2,389.6 342.7,387.8 346.1,387 348.7,387 351.3,388.7 353.9,388.7 356.5,387.8 359.05,388.7 361.6,387.8 363.4,382.7 364.2,375.8 365.9,370.6 368.5,369.75 371.1,370.6 373.7,371.5 375.4,372.3 377.1,369.75 378.9,372.3 379.7,379.2 381.45,387.8 383.2,398.2 384.9,403.3 386.6,409.4 389.2,410.2 392.65,411.1 396.1,410.2 399.5,407.65 402.1,409.4 404.7,411.1 407.3,411.1 409.9,408.5 411.6,403.3 413.3,406.8 415.9,409.4 417.6,405.1 420.2,403.3 423.65,403.3 427.1,403.3 430.5,403.3 434,402.5 437.4,399.9 440.9,396.5 444.3,393.9 446.9,392.1 449.5,393 452.1,393.9 454.7,396.5 458.1,398.2 461.6,399 465,399.9 470,399.9 475.2,402.5 480.3,400.8 485.5,403.3 490.7,399.9 495,396.45 499.3,391.3 502.7,388.7 506.2,388.7 509.6,389.6 513.1,387 516.5,386.1 519.1,385.3 521.7,387 525.1,387 527.7,386.1 529.4,392.15 532,388.7 534.6,386.1 537.2,386.1 539.8,384.4 542.35,381.8 544.1,381.8 545.8,383.5 548.4,386.1 550.1,380.1 552.7,378.4 556.1,376.6 558.7,377.5 561.3,381.8 563.9,387 566.5,390.4 569.05,395.6 569.9,403.3 570.8,412 571.6,418 573.4,422.3 576,428.3 578.5,436.1 581.1,434.35 583.7,430.9 586.3,430 588.9,430.9 591.45,424 593.2,423.15 595.75,425.7 598.3,425.7 600.9,429.2 602.6,434.35 604.4,432.6 606.1,427.5 607.8,424 610.4,418.85 613,413.7 614.7,412.8 617.3,417.1 619.9,418.85 622.45,419.7 625,418.85 626.8,423.15 628.5,420.6 631.1,421.4 633.65,420.6 636.2,419.7 638.8,418.85 640.5,413.7 642.3,415.4 643.1,427.5 644,451.6 646.6,452.4 650,451.6 652.6,449 655.2,437.8 657.8,436.1 660.3,438.65 662.1,451.6 663.8,460.2 665.5,468.8 668.1,467.9 670.7,465.4 672.4,467.1 674.1,475.7 676.7,480.9 679.3,485.2 680,486 683.4,490.3 686.9,497.2 689.5,504.9 692.1,506.65 693.8,512.7 696.4,521.3 698.9,529.05 702.4,535.1 705.8,540.25 709.3,538.5 712.7,536.8 716.2,537.7 718.8,538.5 722.2,537.7 724.8,536.8 727.4,533.4 730.8,532.5 734.3,533.4 738.6,535.9 743.89,543.89 747.78,545.84 751.67,544.86 755.56,543.89 759.46,542.92 763.35,541.95 767.24,542.92 771.13,543.89 774.05,547.78 776.96,553.62 779.88,561.4 782.8,568.21 786.69,570.16 790.58,571.13 794.47,570.16 798.37,571.13 802.26,572.1 806.15,571.13 810.04,571.13 813.93,570.16 817.82,571.13 821.71,570.16 825.6,569.18 829.49,571.13 833.39,573.07 837.28,575.99 840.19,569.18 843.11,565.29 846.03,562.37 848.95,564.32 851.87,571.13 854.79,575.99 857.7,578.91 860.62,576.96 862.57,571.13 864.51,573.07 867.43,575.02 870.35,573.07 872.3,565.29 876.19,557.51 880.08,555.56 883.97,553.62 887.86,552.65 891.75,551.67 894.67,550.7 896.61,552.65 899.53,561.4 903.42,569.18 907.32,572.1 911.21,575.99 915.1,578.91 918.99,581.83 922.88,583.77 926.77,583.77 934.17,587.29 937.29,589.38 939.38,584.17 942.5,580 946.67,582.08 950.83,586.25 953.96,593.54 957.08,591.46 961.25,591.46 965.42,592.5 969.58,596.67 973.75,595.62 977.92,592.5 982.08,590.42 986.25,591.46 990.42,587.29 994.58,589.38 998.75,591.46 1002.92,591.46 1007.08,592.5 1011.25,594.58 1015.42,596.67 1019.58,596.67 1023.75,597.71 1027.92,600.83 1031.04,605 1034.17,610.21 1037.29,618.54 1040.42,614.38 1043.54,619.58 1046.67,623.75 1050.83,627.92 1055,630 1059.17,632.08 1063.33,633.12 1067.5,634.17 1071.67,640.42 1075.83,642.5 1080,645.62 1084.17,649.79 1088.33,653.96 1092.5,658.12 1096.67,661.25 1100.83,660.21 1105,660.21 1109.17,660.21 1113.33,661.25 1117.5,663.33 1121.67,664.38 1125.83,666.46 1130,669.58 1133.12,671.67 1135.21,675.83 1137.29,680" fill="none" stroke="#ff7f0e" stroke-width="1.55" stroke-linejoin="round"/>
<polyline points="107.5,428.25 110,429.5 112.5,427 115,423.9 117.5,424.5 120,427 121.9,433.25 123.75,432.6 125,428.25 126.25,420.75 128.1,417 133.75,412 137.5,413.25 141.25,413.9 143.75,412 145,405.75 146.25,409.5 148.1,407 151.25,404.5 153.1,407 155,404.5 157.5,407 160,408.25 162.5,405.75 164.4,408.25 166.25,408.9 168.75,410.75 170,419.5 172.5,420.1 175,418.25 177.5,417 180,415.75 182.5,412 185,409.5 187.5,405.75 190,399.5 192.5,397 195,396.4 197.5,395.75 200,394.5 202.5,392.6 205,388.9 207.5,383.25 210,382 212.5,383.25 215,383.9 217.5,383.9 220,382.6 221.25,379.5 223.75,376.4 226.25,375.1 228.75,373.9 231.25,375.75 232.5,379.5 234.4,383.25 236.25,384.5 238.1,385.1 240,383.9 242.5,382.6 245,383.25 247.5,383.9 250,383.9 252.5,385.75 255,387 257.5,388.25 260,387.84 263.45,389.56 266.89,393.01 270.34,395.59 273.78,397.31 276.37,398.18 278.95,396.45 282.39,394.73 284.98,393.87 288.42,394.39 291.87,393.01 295.31,393.87 298.76,394.73 301.34,396.45 303.93,401.62 305.65,404.2 307.37,399.9 309.1,394.73 311.68,393.87 314.26,392.15 316.85,389.56 319.43,384.39 322.02,380.95 324.6,379.23 327.18,377.5 329.77,374.06 332.35,372.34 334.94,371.47 337.52,370.61 340.1,369.75 342.69,370.61 345.27,371.47 347.86,372.34 350.44,373.2 353.02,377.5 355.61,380.09 358.19,382.67 360.78,384.39 363.36,386.12 365.94,388.7 368.53,390.42 371.11,391.29 373.7,392.15 375.42,393.87 377.14,391.29 379.72,394.73 381.45,398.18 383.17,403.34 384.89,413.68 386.61,411.96 387.48,407.65 390.92,405.07 394.37,405.07 396.95,403.34 399.53,403.34 401.26,406.79 403.84,411.96 406.43,413.68 409.01,411.96 411.59,411.1 415.04,411.96 417.62,413.68 420.21,417.99 423.65,418.85 427.1,418.85 430.54,419.71 433.99,419.71 437.43,420.57 440.88,418.85 444.32,417.99 447.77,418.85 449.49,417.12 451.21,420.57 453.8,425.74 456.38,428.32 459.83,427.46 463.27,428.32 466.72,429.18 470.16,427.46 473.61,428.32 476.19,431.77 479.64,430.91 481.3,430.3 484.8,432.1 488.2,432.9 491.7,432.1 495.1,428.6 497.7,428.6 500.3,432.1 502.9,434.6 505.5,434.6 508.9,435.5 512.35,436.4 515.8,438.1 519.2,437.2 522.7,438.9 525.3,438.9 527.85,444.1 530.4,450.1 533,451.9 535.6,450.1 538.2,452.7 541.6,454.45 544.2,456.2 546.8,460.5 550.25,461.3 553.7,461.3 557.1,460.5 560.6,458.8 564,457.9 567.5,457 570.9,457.9 574.4,457.9 577,461.3 579.5,463.9 583,464.8 585.6,463.9 588.1,464.8 590.7,469.1 593.3,476.85 595,482.9 596.75,485.5 599.3,488 601.9,493.2 605.4,492.35 608.8,491.5 611.4,490.6 614,493.2 617.5,498.4 620.9,502.7 624.3,506.1 626.9,511.3 627.8,518.2 631.2,518.2 634.7,515.65 638.1,513.9 640.7,515.65 641.6,523.4 642.4,540.6 642.8,559.5 644.8,562.4 646.7,561.4 648.7,555.6 650.6,549.7 653.5,546.8 656.5,544.9 658.4,547.8 660.4,553.6 662.3,559.5 665.2,563.35 668.1,571.1 670.1,569.2 672,567.2 674,569.2 675.9,578.9 678.8,586.7 681.75,592.5 685.6,598.4 689.5,604.2 693.4,610 697.3,619.8 701.2,629.5 705.1,635.3 709,636.3 712.9,636.3 716.8,635.3 720.7,634.4 724.6,633.4 726.5,629.5 728.4,627.5 732.3,627.5 736.2,626.6 740,625.6 742.92,623.66 745.84,626.58 749.73,628.52 753.62,629.49 757.51,630.47 761.4,629.49 765.29,629.49 769.18,631.44 773.07,633.39 776.96,636.3 780.86,639.22 783.77,643.11 786.69,648.95 789.61,651.87 794.47,652.84 798.37,652.45 802.26,651.87 806.15,651.87 810.04,652.45 813.93,650.89 815.88,648.95 817.82,651.87 821.71,652.84 825.6,652.45 829.49,651.87 833.39,650.89 837.28,651.87 841.17,653.81 845.06,654.79 848.95,655.18 852.84,654.79 856.73,655.18 860.62,655.76 864.51,656.73 868.4,660.62 872.3,662.57 876.19,662.57 880.08,662.57 883.97,663.54 887.86,662.57 891.75,659.65 895.64,658.68 899.53,661.6 903.42,662.57 907.32,665.49 911.21,668.4 915.1,667.43 918.99,666.46 922.88,667.43 926.77,667.43 930.66,668.4 934.55,669.38 938.44,669.38 942.33,669.38 946.23,666.46 950.12,664.51 954.01,661.6 959.17,655 963.33,652.92 967.5,653.96 970.62,657.08 973.75,660.21 977.92,663.33 982.08,662.29 986.25,660.21 990.42,659.17 994.58,660.21 996.67,661.25 1000.83,662.29 1005,663.33 1009.17,664.38 1013.33,665.42 1017.5,666.46 1021.67,666.46 1025.83,661.25 1030,659.17 1034.17,660.21 1036.25,667.5 1038.33,663.33 1040.42,661.25 1042.5,665.42 1043.54,674.79 1046.67,673.75 1050.83,673.75 1055,673.75 1059.17,673.75 1063.33,672.71 1065.42,663.33 1069.58,661.25 1073.75,661.25 1077.92,660.21 1080,660.21 1084.17,662.29 1088.33,664.38 1092.5,665.42 1096.67,667.5 1100.83,669.58 1105,671.67 1109.17,669.58 1113.33,667.5 1117.5,667.5 1121.67,669.58 1125.83,669.58 1130,668.54 1134.17,668.54 1138.33,668.54" fill="none" stroke="#2ca02c" stroke-width="1.55" stroke-linejoin="round"/>
<polyline points="108.1,372 109.4,375.75 110,384.5 111.25,388.25 113.75,392 116.25,394.5 118.75,398.25 121.25,402 123.75,405.1 125.6,408.25 126.9,414.5 128.1,423.25 129.4,425.75 130.6,420.75 131.9,414.5 133.1,408.25 135,409.5 137.5,410.75 140,412.6 141.9,414.5 143.1,420.75 145,428.25 146.3,443.8 148.9,452.4 151.5,459.3 155,457.6 158.4,455.8 161.85,459.3 164.4,461 167,461.9 169.6,468.8 172.2,473.1 175.6,476.5 179.1,478.2 182.5,480.8 186,481.7 189.4,485.1 192.85,488.6 196.3,492 199.75,493.7 203.2,496.3 206.6,500.6 210.1,505.8 213.5,506.7 217,507.5 220.4,504.1 223.9,502.3 227.3,502.3 230.75,504.9 234.2,505.8 237.6,506.7 241.1,508.4 244.5,510.1 248,509.2 251.4,508.4 254.9,508.4 258.3,511 261.8,511.8 265.2,511.8 268.65,512.7 272.1,512.7 275.5,512.7 279,513.5 282.4,513.5 285.9,512.7 289.3,515.3 292.8,517 296.2,517.9 299.7,519.6 302.2,523.9 304.8,529.9 307.4,533.4 310.8,536.8 313.4,542 316.8,547.1 319.5,552.3 323.4,559.6 326.9,563 330.3,563 333.8,563.9 337.2,563.9 340.7,569.9 344.1,574.2 347.6,576.8 351,573.4 352.7,570.8 356.2,568.2 357.9,569.9 361.3,572.5 364.8,575.9 368.2,578.5 371.7,575.9 375.1,573.4 378.6,571.6 381.15,563 382.9,554.4 384.6,557.85 386.3,566.5 388.9,565.6 392.35,565.6 395.8,563.9 398.4,559.6 401,551.8 404.4,551.8 407,552.7 408.7,561.3 411.3,573.4 414.75,580.25 418.2,582.8 421.6,584.55 425.1,585.4 428.5,586.3 431.1,579.4 433.7,571.6 436.3,565.6 438.9,567.3 441.45,569.9 444,569.9 446.6,563 449.2,556.1 452.6,552.7 456.1,551 459.5,550.1 463,551 466.4,551.8 469.9,551 473.3,552.7 476.8,555.3 480.2,556.1 483.65,557.85 486.2,563 488.8,569.9 491.4,573.4 494,569.9 497.45,568.2 500.9,569.9 504.3,570.8 507.8,569.9 511.2,570.8 514.7,569.9 518.1,571.6 519.8,569.05 522.4,573.4 525.85,575.1 528.4,580.25 531,588 533.9,597.4 537.8,588.6 541.7,590.6 545.6,586.7 549.5,585.7 553.3,584.7 557.2,584.7 561.1,583.8 564,580.9 566,586.7 568.9,586.7 572.8,587.7 576.7,586.7 580.6,586.7 584.5,587.7 588.4,588.6 591.3,598.4 594.2,610 597.1,617.8 600,623.7 602,616.85 603.9,619.8 605.9,616.85 609.8,615.9 613.65,619.8 617.5,621.7 621.4,623.7 625.3,629.5 629.2,635.3 633.1,637.3 637,636.3 640.9,637.3 641.9,660.6 642.8,654.8 644.8,656.7 647.7,660.6 650.6,662.6 654.5,664.5 656.5,672.3 657.4,676.2 658.4,674.2 660.4,664.5 662.3,658.7 666.2,660.6 669.1,662.6 671.05,656.7 674,654.8 677.9,650.9 681.75,649 685.6,646 689.5,643.1 693.4,640.2 697.3,641.2 701.2,642.1 705.1,645.1 709,646 712.9,646 716.8,645.1 720.7,646 724.6,646 728.4,645.1 732.3,645.1 736.2,643.1 740,642.14 743.89,641.17 747.78,641.17 751.67,641.17 755.56,642.14 759.46,641.17 763.35,640.19 767.24,638.25 771.13,633.39 774.05,629.49 776.96,621.71 780.86,617.82 784.75,618.79 788.64,619.77 792.53,619.77 796.42,617.82 800.31,618.79 804.2,616.85 808.09,615.88 811.98,616.85 815.88,613.93 819.77,611.01 823.66,608.09 827.55,606.15 831.44,602.26 835.33,597.39 838.25,600.31 841.17,602.26 845.06,602.26 848.95,600.31 852.84,599.34 856.73,599.34 860.62,597.39 864.51,596.42 867.43,598.37 870.35,602.26 874.24,606.15 878.13,607.12 882.02,609.07 885.91,609.07 889.81,606.15 893.7,602.26 897.59,599.34 901.48,596.42 904.4,591.56 907.32,589.61 911.21,591.56 915.1,592.53 918.99,592.53 922.88,591.56 926.77,591.56 930.66,591.56 933.12,592.5 935.21,602.92 939.38,613.33 942.5,611.25 946.67,608.12 950.83,605 953.96,602.92 956.04,609.17 959.17,603.96 963.33,602.92 967.5,601.88 971.67,605 975.83,607.08 980,608.12 984.17,609.17 988.33,608.12 992.5,606.04 996.67,609.17 1000.83,611.25 1005,612.29 1009.17,613.33 1013.33,614.38 1017.5,614.38 1021.67,615.42 1023.75,617.5 1025.83,614.38 1027.92,609.17 1032.08,606.04 1036.25,605 1038.33,600.83 1040.42,596.67 1043.54,600.83 1044.58,606.04 1047.71,605 1050.83,602.92 1055,601.88 1059.17,598.75 1063.33,592.5 1064.38,588.33 1066.46,563.33 1068.54,562.29 1071.67,565.42 1075.83,564.38 1080,562.29 1084.17,567.5 1088.33,569.58 1092.5,571.67 1096.67,573.75 1098.75,576.88 1102.92,577.92 1107.08,576.88 1109.17,573.75 1111.25,578.96 1115.42,577.92 1119.58,577.92 1123.75,577.92 1127.92,577.92 1132.08,577.92 1135.21,578.96 1138.33,580" fill="none" stroke="#d62728" stroke-width="1.55" stroke-linejoin="round"/>
<polyline points="108.1,370.75 109.4,374.5 110,383.25 111.9,385.75 113.75,387 115.6,389.5 117.5,392 120,394.5 121.25,397 123.75,399.5 126.25,400.75 128.1,405.75 130,405.75 131.9,405.1 133.75,405.75 136.25,406.4 138.75,407.6 141.25,409.5 143.1,412 144.4,415.75 145,427 146.9,433.25 148.75,435.75 150.6,430.75 152.5,427 154.4,425.75 156.25,424.5 158.1,425.1 160,427 162.5,430.75 165,433.25 167.5,434.5 170.5,436.9 173.9,438.6 177.35,440.3 180.8,439.5 184.2,441.2 187.7,439.5 189.4,437.75 191.1,442.1 194.6,443.8 198,445.5 201.5,448.9 204.9,452.4 208.4,455.8 211.8,457.6 215.25,458.4 218.7,456.7 222.1,455.8 225.6,454.1 229,455 232.5,456.7 235.9,458.4 239.4,460.1 242.8,461.9 246.25,462.7 249.7,463.6 253.15,463.6 256.6,464.45 260,465.3 263.5,466.2 266.9,467 270.4,467 273.8,467 277.3,467 280.7,467.9 284.15,466.2 287.6,468.8 291,469.6 294.5,470.5 297.9,470.5 301.4,470.5 303.1,475.65 305.7,480.8 309.1,478.2 311.7,477.4 315.2,478.2 317.75,476.5 320,480.3 323.4,490.7 326.9,493.25 330.3,494.1 333.8,495.8 337.2,495.8 338.9,504.45 339.8,513.9 342.4,515.65 345.8,515.65 349.3,513.9 352.7,515.65 356.2,515.65 359.6,516.5 363.1,518.2 366.5,522.5 370,519.95 373.4,519.1 376.85,519.95 380.3,521.7 382.9,525.1 385.5,529.4 387.2,538 388.9,534.6 392.35,536.3 395.8,538.9 399.2,542.35 402.7,545.8 406.1,547.5 408.7,551 411.3,561.3 413.9,568.2 416.5,569.9 419.9,569.9 423.4,570.8 426.8,571.6 430.25,569.9 433.7,569.05 437.1,569.9 440.6,569.05 444,568.2 446.6,563 449.2,549.2 452.6,549.2 456.1,547.5 459.5,546.7 463,545.8 466.4,544.9 469.9,543.2 473.3,544.1 476.8,545.8 480.2,544.9 482.8,545.8 485.4,549.2 488,554.4 490.5,559.6 494,556.1 497.45,557 500.9,558.7 504.3,559.6 507.8,559.6 511.2,558.7 514.7,557.85 519,556.1 521.55,559.6 525,563 528.4,566.5 533.9,569.2 537.8,572.1 541.7,577 545.6,573.1 549.5,571.1 553.3,570.2 557.2,569.2 561.1,568.2 564,567.2 566,578.9 568.9,580.9 572.8,579.9 576.7,578.9 580.6,579.9 584.5,579.9 588.4,578.9 591.3,580.9 594.2,585.7 597.1,581.8 599.1,579.9 601,582.8 603,586.7 605.9,586.7 608.8,587.7 611.7,586.7 615.6,592.5 619.5,593.5 623.4,596.4 627.3,602.3 631.2,603.2 635.1,601.3 638,600.3 640.9,596.4 641.9,598.4 642.5,633.4 644.8,637.3 647.7,643.1 650.6,649 654.5,652.8 656.5,660.6 658.4,666.5 660.4,662.6 662.3,658.7 666.2,662.6 668.1,668.4 671.05,664.5 674,664.5 677.9,665.5 681.75,664.5 685.6,662.6 689.5,660.6 693.4,659.65 697.3,659.65 701.2,660.6 705.1,662.6 709,664.5 712.9,665.5 716.8,666.5 719.7,666.5 721.6,672.3 724.6,674.2 728.4,675.2 732.3,675.2 736.2,674.2 740,671.32 743.89,670.35 747.78,670.35 751.67,670.35 755.56,669.38 759.46,669.38 763.35,668.4 767.24,666.46 771.13,664.51 775.02,662.57 778.91,660.62 782.8,660.62 786.69,662.57 790.58,662.57 794.47,661.6 798.37,661.6 802.26,661.6 806.15,661.6 810.04,660.62 813.93,659.65 817.82,658.68 821.71,656.73 825.6,655.76 829.49,654.79 833.39,653.81 836.3,654.79 838.25,658.68 841.17,660.62 845.06,656.73 848.95,655.76 852.84,655.76 856.73,655.76 860.62,654.79 864.51,655.76 868.4,659.65 870.35,664.51 874.24,668.4 878.13,669.38 882.02,669.38 885.91,668.4 889.81,664.51 893.7,660.62 897.59,658.68 901.48,655.76 905.37,653.81 909.26,654.79 913.15,655.76 917.04,656.73 920.93,656.73 924.82,656.73 928.72,655.76 932.61,655.76 935.21,656.04 939.38,662.29 942.5,662.29 946.67,660.21 950.83,659.17 955,660.21 959.17,657.08 963.33,655 967.5,653.96 970.62,656.04 973.75,656.04 977.92,657.08 982.08,657.08 986.25,657.5 990.42,656.04 994.58,657.08 996.67,660.21 1000.83,660.21 1005,661.25 1009.17,662.29 1013.33,663.33 1017.5,664.38 1021.67,665.42 1025.83,664.38 1030,661.25 1034.17,661.25 1037.29,659.17 1040.42,652.92 1043.54,659.17 1046.67,666.46 1049.79,663.33 1052.92,661.25 1057.08,660.21 1061.25,657.08 1064.38,652.92 1066.46,632.08 1069.58,632.08 1073.75,632.08 1077.92,628.96 1080,627.92 1084.17,630 1088.33,631.04 1092.5,632.08 1096.67,632.08 1098.75,638.33 1102.92,639.38 1107.08,637.29 1111.25,637.29 1114.38,636.25 1117.5,637.29 1121.67,638.33 1125.83,639.38 1130,640.42 1133.12,642.5 1138.33,643.54" fill="none" stroke="#9467bd" stroke-width="1.55" stroke-linejoin="round"/>
<polyline points="108,371.5 108.6,375.6 120.8,375.6 121.3,381.7 127.8,381.7 128.3,389.2 131.9,389.2 132.6,416 143.5,416 144.4,422 154.4,422 155,433 157.5,433 158.1,444.5 164,444.5 164.5,437.7 168,437.7 169,483.4 175.6,483.4 176.5,476.5 195.4,476.5 196.3,484.3 200.6,484.3 201.5,491.15 242.8,491.15 243.7,500.6 306.5,500.6 307.4,458.5 316.8,458.5 317.7,451.6 321.15,451.6 322,458.5 323,481 324.5,474 332.2,474 333,481.5 351.3,481.5 352.2,460.2 361.6,460.2 362.5,449.85 368.5,449.85 370,476 370.8,489 371.7,474.3 375.1,474.3 376.3,430 382.3,430 384,480 386.3,513 387.2,482 403,482 403.9,469.7 409.9,469.7 410.6,485.5 440.6,485.5 441.5,477.7 448,477.7 448.6,471.5 449.5,494 450.3,488 470.5,488 471.3,469 485.6,469 488.2,494 511.5,494 512.3,485.5 518.3,485.5 519.2,503.5 526.1,503.5 527,490.6 575.2,490.6 576.1,497.5 593.3,497.5 594.2,503.5 595,487.2 596.75,486.3 598.5,488.9 600.2,516.5 601.9,537.1 602.8,544 603.9,548.75 606.8,559.5 627.3,559.5 628.2,548.75 641.9,548.75 642.8,584.7 647.7,584.7 648.7,577 654.5,577 655.5,565.3 656.5,565.3 657.4,604.2 658.4,608.1 670.1,608.1 671,602.3 758.5,602.3 759.5,616.85 824.6,616.85 825.6,609.1 867.4,609.1 868.4,629.5 899.5,629.5 900.5,641.2 911.2,641.2 912.2,630.5 937.5,630.5 939.4,649 970.6,649 971.7,659.2 995.6,659.2 996.7,667.5 1033.1,667.5 1034.2,675.8 1063.3,675.8 1064.4,658.1 1138,658.1" fill="none" stroke="#8c564b" stroke-width="1.55" stroke-linejoin="round"/>
<line x1="107.5" y1="368.9" x2="107.5" y2="677.3000000000001" stroke="#333" stroke-width="1.4"/>
<line x1="106.8" y1="676.6" x2="1138" y2="676.6" stroke="#333" stroke-width="1.4"/>
<line x1="102.5" y1="676.6" x2="107.5" y2="676.6" stroke="#333" stroke-width="1.2"/>
<line x1="104.3" y1="664.4" x2="107.5" y2="664.4" stroke="#333" stroke-width="0.9"/>
<line x1="104.3" y1="652.2" x2="107.5" y2="652.2" stroke="#333" stroke-width="0.9"/>
<line x1="104.3" y1="640" x2="107.5" y2="640" stroke="#333" stroke-width="0.9"/>
<line x1="104.3" y1="627.8" x2="107.5" y2="627.8" stroke="#333" stroke-width="0.9"/>
<line x1="102.5" y1="615.6" x2="107.5" y2="615.6" stroke="#333" stroke-width="1.2"/>
<line x1="104.3" y1="603.3" x2="107.5" y2="603.3" stroke="#333" stroke-width="0.9"/>
<line x1="104.3" y1="591" x2="107.5" y2="591" stroke="#333" stroke-width="0.9"/>
<line x1="104.3" y1="578.7" x2="107.5" y2="578.7" stroke="#333" stroke-width="0.9"/>
<line x1="104.3" y1="566.4" x2="107.5" y2="566.4" stroke="#333" stroke-width="0.9"/>
<line x1="102.5" y1="554.1" x2="107.5" y2="554.1" stroke="#333" stroke-width="1.2"/>
<line x1="104.3" y1="541.66" x2="107.5" y2="541.66" stroke="#333" stroke-width="0.9"/>
<line x1="104.3" y1="529.22" x2="107.5" y2="529.22" stroke="#333" stroke-width="0.9"/>
<line x1="104.3" y1="516.78" x2="107.5" y2="516.78" stroke="#333" stroke-width="0.9"/>
<line x1="104.3" y1="504.34" x2="107.5" y2="504.34" stroke="#333" stroke-width="0.9"/>
<line x1="102.5" y1="491.9" x2="107.5" y2="491.9" stroke="#333" stroke-width="1.2"/>
<line x1="104.3" y1="479.58" x2="107.5" y2="479.58" stroke="#333" stroke-width="0.9"/>
<line x1="104.3" y1="467.26" x2="107.5" y2="467.26" stroke="#333" stroke-width="0.9"/>
<line x1="104.3" y1="454.94" x2="107.5" y2="454.94" stroke="#333" stroke-width="0.9"/>
<line x1="104.3" y1="442.62" x2="107.5" y2="442.62" stroke="#333" stroke-width="0.9"/>
<line x1="102.5" y1="430.3" x2="107.5" y2="430.3" stroke="#333" stroke-width="1.2"/>
<line x1="104.3" y1="418.12" x2="107.5" y2="418.12" stroke="#333" stroke-width="0.9"/>
<line x1="104.3" y1="405.94" x2="107.5" y2="405.94" stroke="#333" stroke-width="0.9"/>
<line x1="104.3" y1="393.76" x2="107.5" y2="393.76" stroke="#333" stroke-width="0.9"/>
<line x1="104.3" y1="381.58" x2="107.5" y2="381.58" stroke="#333" stroke-width="0.9"/>
<line x1="104.3" y1="369.4" x2="107.5" y2="369.4" stroke="#333" stroke-width="0.9"/>
<line x1="102.5" y1="369.4" x2="107.5" y2="369.4" stroke="#333" stroke-width="1.2"/>
<text class="s" x="94.8" y="679.4" font-size="10.2" letter-spacing="-0.15" text-anchor="end">0.00</text>
<text class="s" x="97.6" y="618.4" font-size="10.2" letter-spacing="-0.15" text-anchor="end">200.00 m</text>
<text class="s" x="97.6" y="556.9" font-size="10.2" letter-spacing="-0.15" text-anchor="end">400.00 m</text>
<text class="s" x="97.6" y="494.7" font-size="10.2" letter-spacing="-0.15" text-anchor="end">600.00 m</text>
<text class="s" x="97.6" y="433.1" font-size="10.2" letter-spacing="-0.15" text-anchor="end">800.00 m</text>
<text class="s" x="94.8" y="372.2" font-size="10.2" letter-spacing="-0.15" text-anchor="end">1.00</text>
<line x1="253.75" y1="676.6" x2="253.75" y2="682.1" stroke="#222" stroke-width="1.2"/>
<text class="s" x="253.75" y="692.6" font-size="10.5" text-anchor="middle">11/16</text>
<line x1="473.25" y1="676.6" x2="473.25" y2="682.1" stroke="#222" stroke-width="1.2"/>
<text class="s" x="473.25" y="692.6" font-size="10.5" text-anchor="middle">11/19</text>
<line x1="692.5" y1="676.6" x2="692.5" y2="682.1" stroke="#222" stroke-width="1.2"/>
<text class="s" x="692.5" y="692.6" font-size="10.5" text-anchor="middle">11/22</text>
<line x1="912" y1="676.6" x2="912" y2="682.1" stroke="#222" stroke-width="1.2"/>
<text class="s" x="912" y="692.6" font-size="10.5" text-anchor="middle">11/25</text>
<line x1="1131.5" y1="676.6" x2="1131.5" y2="682.1" stroke="#222" stroke-width="1.2"/>
<text class="s" x="1131.5" y="692.6" font-size="10.5" text-anchor="middle">11/28</text>
<text class="s" x="623" y="711" font-size="11.5" font-style="italic" text-anchor="middle">Date (UTC)</text>
<text class="s" font-size="11.7" font-style="italic" transform="translate(28.6,522) rotate(-90)" text-anchor="middle">Norm. CVD (arb. u.)</text>
<rect x="1139" y="539" width="123.5" height="138" fill="#fff" fill-opacity="0.85" stroke="#e6e6e6" stroke-width="1" rx="2"/>
<line x1="1147.5" y1="556.1" x2="1164" y2="556.1" stroke="#1f77b4" stroke-width="1.8"/>
<text class="s" x="1169.4" y="560.3" font-size="11.8" letter-spacing="-0.05">all orders</text>
<line x1="1147.5" y1="576.5" x2="1164" y2="576.5" stroke="#ff7f0e" stroke-width="1.8"/>
<text class="s" x="1169.4" y="580.7" font-size="11.8" letter-spacing="-0.05">$100 to $1k</text>
<line x1="1147.5" y1="596.9" x2="1164" y2="596.9" stroke="#2ca02c" stroke-width="1.8"/>
<text class="s" x="1169.4" y="601.1" font-size="11.8" letter-spacing="-0.05">$1k to $10k</text>
<line x1="1147.5" y1="617.3" x2="1164" y2="617.3" stroke="#d62728" stroke-width="1.8"/>
<text class="s" x="1169.4" y="621.5" font-size="11.8" letter-spacing="-0.05">$10k to $100k</text>
<line x1="1147.5" y1="637.7" x2="1164" y2="637.7" stroke="#9467bd" stroke-width="1.8"/>
<text class="s" x="1169.4" y="641.9" font-size="11.8" letter-spacing="-0.05">$100k to $1M</text>
<line x1="1147.5" y1="658.1" x2="1164" y2="658.1" stroke="#8c564b" stroke-width="1.8"/>
<text class="s" x="1169.4" y="662.3" font-size="11.8" letter-spacing="-0.05">$1M to $10M</text>
</svg></body></html>
